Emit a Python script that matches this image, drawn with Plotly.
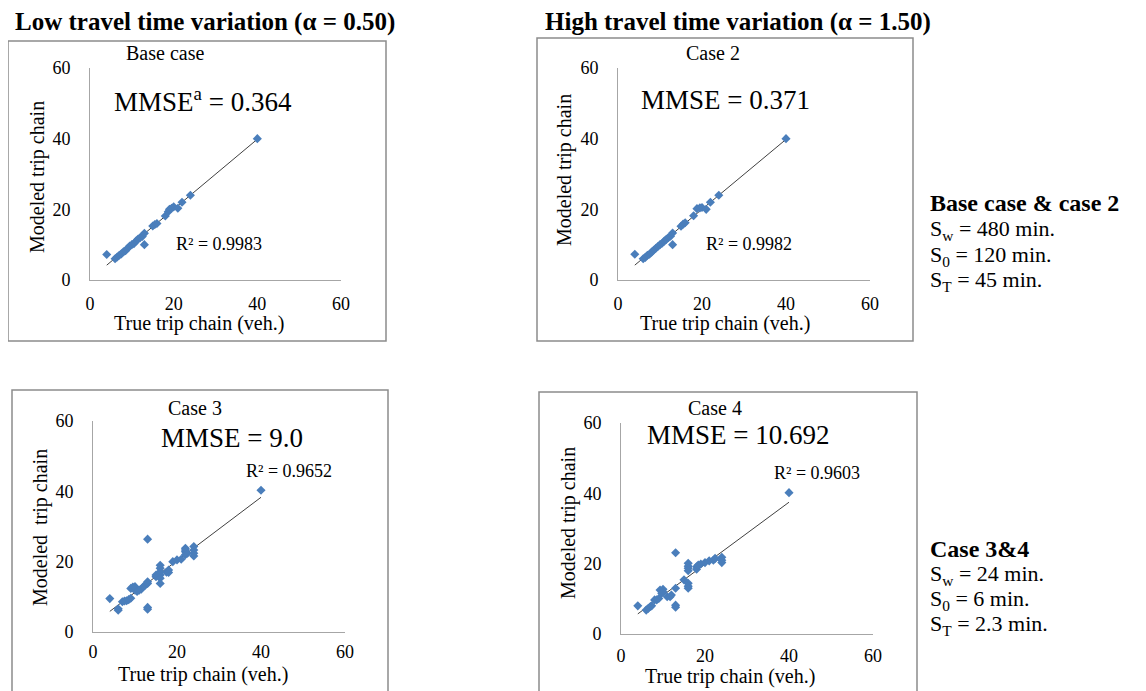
import numpy as np
import plotly.graph_objects as go

W, H = 1146, 691

# ---------------- data ----------------
base_x = [4, 6, 6.5, 7, 7.5, 8, 8.5, 9, 9.5, 10, 10.5, 11, 11.5, 12, 12.5, 13, 13, 15, 15.5, 16, 18, 18.7, 19, 19.5, 20, 21, 22, 24, 40]
base_y = [7.2, 6, 6.5, 7, 7.4, 8, 8.3, 9, 9.6, 10, 10.3, 11, 11.6, 12, 12.3, 13.2, 10, 15.3, 15.7, 16, 18.1, 19.3, 20, 20.3, 20.7, 20.3, 22, 24, 40]

case2_x = [4, 6, 6.5, 7, 7.5, 8, 8.5, 9, 9.5, 10, 10.5, 11, 11.5, 12, 12.5, 13, 13, 15, 15.5, 16, 18, 18.8, 19.5, 20, 21, 22, 24, 40]
case2_y = [7.3, 6, 6.4, 7, 7.3, 7.9, 8.4, 9, 9.5, 10, 10.4, 11, 11.5, 12, 12.4, 13.3, 10, 15.2, 15.8, 16.2, 18.2, 20.2, 20.4, 20.5, 20.0, 22, 24, 40]

case3_x = [4, 6, 6, 7, 7.5, 8, 8.5, 9, 9, 9.5, 10, 10, 10.5, 11, 11.5, 12, 12.5, 13, 13, 13, 13, 13, 15, 15, 16, 16, 16, 16, 16, 16, 17.5, 18, 18, 19, 20, 21, 22, 22, 22, 22, 22.5, 24, 24, 24, 24, 40]
case3_y = [9.5, 6.2, 6.6, 8.6, 8.8, 8.9, 9.2, 9.6, 12.4, 12.8, 11.9, 12.9, 11.5, 11.9, 12.2, 12.9, 13.4, 13.8, 14.3, 26.4, 7.0, 6.5, 15.7, 16.2, 19.0, 18.1, 17.1, 16.2, 15.3, 13.8, 17.0, 17.6, 16.9, 20.0, 20.5, 20.7, 23.8, 22.8, 23.3, 22.0, 22.4, 24.3, 23.3, 22.4, 21.6, 40.3]

case4_x = [4, 6, 6.5, 7, 7.3, 8, 8.5, 9, 9.3, 10, 10, 9.7, 11, 11.7, 12, 13, 13, 13, 13, 15, 16, 16, 16, 16, 16, 16, 16, 18, 18, 18.4, 19, 20, 21, 22, 22.4, 24, 24, 24, 40]
case4_y = [8.0, 6.8, 7.3, 7.8, 8.0, 9.7, 9.7, 10.1, 12.5, 12.7, 12.0, 11.6, 10.6, 10.6, 11.1, 13.0, 23.1, 8.2, 7.6, 15.4, 14.4, 13.6, 13.0, 20.1, 19.3, 18.7, 18.0, 19.1, 18.4, 19.6, 19.9, 20.3, 20.8, 21.0, 21.5, 21.8, 21.0, 20.3, 40.2]

tick_vals = [0, 20, 40, 60]
panel_titles = ["Base case", "Case 2", "Case 3", "Case 4"]
mmse_texts = ["MMSE<sup>a</sup> = 0.364", "MMSE = 0.371", "MMSE = 9.0", "MMSE = 10.692"]
r2_texts = ["R² = 0.9983", "R² = 0.9982", "R² = 0.9652", "R² = 0.9603"]
ytitles = ["Modeled trip chain", "Modeled trip chain", "Modeled\u00a0 trip chain", "Modeled trip chain"]
xtitle = "True trip chain (veh.)"
headers = ["Low travel time variation (α = 0.50)", "High travel time variation (α = 1.50)"]
side1 = ["<b>Base case & case 2</b>", "S<sub>w</sub> = 480 min.", "S<sub>0</sub> = 120 min.", "S<sub>T</sub> = 45 min."]
side2 = ["<b>Case 3&4</b>", "S<sub>w</sub> = 24 min.", "S<sub>0</sub> = 6 min.", "S<sub>T</sub> = 2.3 min."]

series = [(base_x, base_y), (case2_x, case2_y), (case3_x, case3_y), (case4_x, case4_y)]

# ---------------- layout geometry (target pixels in the screenshot) ----------------
areas = [(90, 341, 68, 280), (618, 870, 68, 280), (93, 345, 421, 632), (621, 873, 423, 634)]
frames = [(8, 386, 41, 341), (537, 913, 38, 341), (12, 388, 390, 705), (539, 917, 392, 705)]
title_pos = [(165, 53), (713, 53), (195, 408), (715, 408)]
mmse_pos = [(113, 100), (640, 100), (160, 438), (646, 435)]
r2_pos = [(175, 244), (705, 244), (245, 471), (773, 473)]
ytitle_pos = [(38, 177), (565, 170), (40, 528), (568, 523)]
xtitle_pos = [(199, 323), (725, 323), (203, 674), (730, 676)]
xstand = [7, 7, 3, 5]

FONT = "Liberation Serif"
MARK = "#4a7ebb"
OFF = 8  # page body margin of the html page


def px(x):
    return (x - OFF) / W


def py(y):
    return 1 - (y - OFF) / H


fig = go.Figure()
ann = []
shapes = []
layout = {}


def add_text(txt, x, y, size, xanchor="center", angle=0):
    ann.append(dict(text=txt, x=px(x), y=py(y), xref="paper", yref="paper",
                    xanchor=xanchor, yanchor="middle", textangle=angle, showarrow=False,
                    borderpad=0, font=dict(family=FONT, size=size, color="black")))


for i, ((xs, ys), (l, r, t, b)) in enumerate(zip(series, areas)):
    n = "" if i == 0 else str(i + 1)
    xa, ya = "x" + n, "y" + n
    xs_a = np.array(xs, dtype=float)
    ys_a = np.array(ys, dtype=float)
    slope, icpt = np.polyfit(xs_a, ys_a, 1)
    lx = np.array([xs_a.min(), xs_a.max()])
    fig.add_trace(go.Scatter(x=lx, y=slope * lx + icpt, mode="lines",
                             line=dict(color="#404040", width=1),
                             xaxis=xa, yaxis=ya, showlegend=False, hoverinfo="skip"))
    fig.add_trace(go.Scatter(x=xs, y=ys, mode="markers",
                             marker=dict(color=MARK, size=7, symbol="diamond"),
                             xaxis=xa, yaxis=ya, showlegend=False))
    common = dict(range=[0, 60], tickvals=tick_vals, showgrid=False, zeroline=False,
                  showline=True, linecolor="#a6a6a6", linewidth=1, ticks="", automargin=False,
                  tickfont=dict(family=FONT, size=18, color="black"), fixedrange=True)
    layout["xaxis" + n] = dict(domain=[px(l), px(r)], anchor=ya, ticklabelstandoff=xstand[i], **common)
    layout["yaxis" + n] = dict(domain=[py(b), py(t)], anchor=xa, ticklabelstandoff=15, **common)

    fl, fr, ft, fb = frames[i]
    shapes.append(dict(type="rect", xref="paper", yref="paper", x0=px(fl), x1=px(fr),
                       y0=py(fb), y1=py(ft), line=dict(color="#8c8c8c", width=1.5)))
    add_text(panel_titles[i], *title_pos[i], 20)
    add_text(mmse_texts[i], *mmse_pos[i], 27, xanchor="left")
    add_text(r2_texts[i], *r2_pos[i], 18, xanchor="left")
    add_text(ytitles[i], *ytitle_pos[i], 20, angle=-90)
    add_text(xtitle, *xtitle_pos[i], 20)

for txt, pos in zip(headers, [(14, 22), (544, 22)]):
    add_text("<b>" + txt + "</b>", *pos, 25, xanchor="left")

for lines, ys0 in [(side1, [203, 230, 256, 281]), (side2, [549, 575, 600, 625])]:
    for j, (txt, yy) in enumerate(zip(lines, ys0)):
        add_text(txt, 929, yy, 24 if j == 0 else 22, xanchor="left")

fig.update_layout(width=W, height=H, margin=dict(l=0, r=0, t=0, b=0, autoexpand=False),
                  paper_bgcolor="white", plot_bgcolor="white",
                  annotations=ann, shapes=shapes, **layout)

fig.write_html("out.html", config={"displayModeBar": False})
